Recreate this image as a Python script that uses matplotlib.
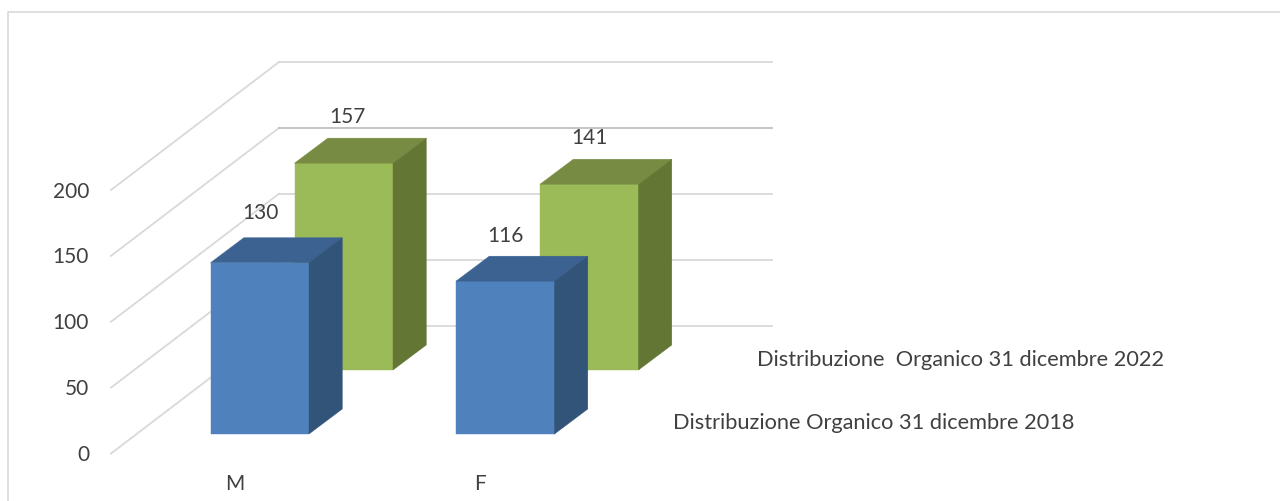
import matplotlib
matplotlib.use("Agg")
import matplotlib.pyplot as plt
from matplotlib.patches import Polygon

plt.rcParams['font.family'] = ['Lato', 'DejaVu Sans']

# Data
categories = ["M", "F"]
values_2018 = [130, 116]
values_2022 = [157, 141]
series_names = ["Distribuzione Organico 31 dicembre 2018", "Distribuzione  Organico 31 dicembre 2022"]
y_ticks = [0, 50, 100, 150, 200]

# Projection, canvas is in image pixels
px_per_unit = 1.3175
floor_front = (111, 453.5)
floor_back = (279, 325.5)
wall_right = 772
bar_width = 98.5
bar_depth = (33.3, -25)
first_bar_x = [210.5, 294.5]
base_y = [434, 370]
cat_step = 245.5

# value label offsets from the bar top (x from bar left, y upwards)
label_off_2018 = [(49.5, 49.5), (49, 45)]
label_off_2022 = [(52.5, 46), (49, 46)]

blue = ["#4F81BD", "#3C6291", "#325479"]
green = ["#9BBB59", "#778C42", "#647634"]
grid_col = "#D9D9D9"
text_col = "#404040"
fsize = 15
legend_size = 15.7


def to_y(v, base):
    return base - v * px_per_unit


def box(ax, x, base, value, cols, z):
    top = to_y(value, base)
    dx, dy = bar_depth
    x2 = x + bar_width
    front = [(x, base), (x2, base), (x2, top), (x, top)]
    roof = [(x, top), (x2, top), (x2 + dx, top + dy), (x + dx, top + dy)]
    side = [(x2, base), (x2 + dx, base + dy), (x2 + dx, top + dy), (x2, top)]
    for pts, c in zip([front, roof, side], cols):
        ax.add_patch(Polygon(pts, closed=True, fc=c, ec=c, lw=0.3, zorder=z))


fig = plt.figure(figsize=(12.8, 5.01), dpi=100)
ax = fig.add_axes([0, 0, 1, 1])
ax.set_xlim(0, 1280)
ax.set_ylim(501, 0)
ax.axis("off")

# chart frame, open on the right and the bottom
ax.plot([8, 8, 1280], [501, 12, 12], color="#D9D9D9", lw=1.2, zorder=1)

# wall and floor gridlines
for t in y_ticks:
    y_f = to_y(t, floor_front[1])
    y_b = to_y(t, floor_back[1])
    ax.plot([floor_front[0], floor_back[0]], [y_f, y_b], color=grid_col, lw=1.3, zorder=2)
    lc = "#BFBFBF" if t == 150 else grid_col
    ax.plot([floor_back[0], wall_right], [y_b, y_b], color=lc, lw=1.3, zorder=2)
    ax.text(89, y_f + 1.5, str(t), ha="right", va="center", fontsize=fsize, color=text_col)

# back row first so the front row covers it
for i in range(len(categories)):
    box(ax, first_bar_x[1] + i * cat_step, base_y[1], values_2022[i], green, 3)
for i in range(len(categories)):
    box(ax, first_bar_x[0] + i * cat_step, base_y[0], values_2018[i], blue, 4)

# value labels
for i in range(len(categories)):
    ax.text(first_bar_x[0] + i * cat_step + label_off_2018[i][0],
            to_y(values_2018[i], base_y[0]) - label_off_2018[i][1],
            str(values_2018[i]), ha="center", va="center", fontsize=fsize, color=text_col, zorder=5)
    ax.text(first_bar_x[1] + i * cat_step + label_off_2022[i][0],
            to_y(values_2022[i], base_y[1]) - label_off_2022[i][1],
            str(values_2022[i]), ha="center", va="center", fontsize=fsize, color=text_col, zorder=5)

# category labels
for i, c in enumerate(categories):
    ax.text(235 + i * cat_step - i * 0.5, 484, c, ha="center", va="center", fontsize=fsize, color=text_col)

# series names sit by themselves, no swatches
ax.text(673, 423, series_names[0], ha="left", va="center", fontsize=legend_size, color=text_col)
ax.text(757, 360, series_names[1], ha="left", va="center", fontsize=legend_size, color=text_col)

fig.savefig("out.png", dpi=100)
